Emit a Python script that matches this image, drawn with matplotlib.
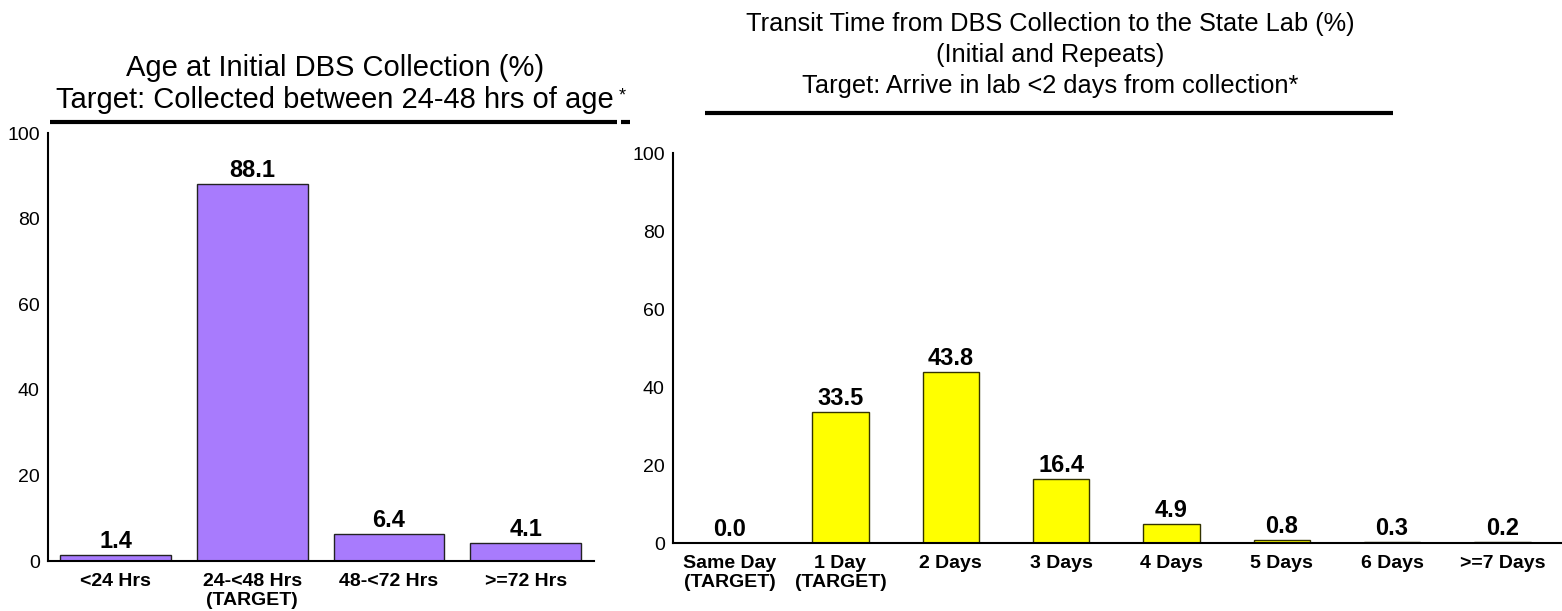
import matplotlib
matplotlib.use("Agg")
from matplotlib import pyplot as plt
from matplotlib.lines import Line2D

plt.rcParams['font.family'] = ['Liberation Sans', 'DejaVu Sans']

age_labels = ['<24 Hrs', '24-<48 Hrs\n(TARGET)', '48-<72 Hrs', '>=72 Hrs']
age_values = [1.4, 88.1, 6.4, 4.1]

transit_labels = ['Same Day\n(TARGET)', '1 Day\n(TARGET)', '2 Days', '3 Days',
                  '4 Days', '5 Days', '6 Days', '>=7 Days']
transit_values = [0.0, 33.5, 43.8, 16.4, 4.9, 0.8, 0.3, 0.2]

yticks = [0, 20, 40, 60, 80, 100]

W, H = 1562, 611
fig = plt.figure(figsize=(W / 100, H / 100), dpi=100)


def px_axes(x0, y0, x1, y1):
    # pixel box (top-left origin) -> figure fraction
    return fig.add_axes([x0 / W, 1 - y1 / H, (x1 - x0) / W, (y1 - y0) / H])


def style(ax):
    for s in ['top', 'right']:
        ax.spines[s].set_visible(False)
    for s in ['left', 'bottom']:
        ax.spines[s].set_linewidth(1.5)
    ax.tick_params(axis='both', length=0)
    ax.tick_params(axis='y', labelsize=14, pad=6)
    ax.tick_params(axis='x', labelsize=14, pad=9)
    for t in ax.get_xticklabels():
        t.set_fontweight('bold')
    ax.set_yticks(yticks)
    ax.set_ylim(0, 100)


def hline(x0, x1, y):
    fig.add_artist(Line2D([x0 / W, x1 / W], [1 - y / H, 1 - y / H], color='black',
                          lw=3, solid_capstyle='butt'))


# left chart
ax1 = px_axes(48, 133, 594, 561)
x1 = range(len(age_values))
ax1.bar(x1, age_values, width=0.81, color='#a87bfd', edgecolor='#222222', linewidth=1)
ax1.set_xlim(-0.494, 3.5)
ax1.set_xticks(list(x1))
ax1.set_xticklabels(age_labels, linespacing=1.15)
style(ax1)
for i, v in enumerate(age_values):
    ax1.annotate(f'{v:.1f}', (i, v), xytext=(0, 1.5), textcoords='offset points',
                 ha='center', va='bottom', fontsize=17, fontweight='bold')

# right chart
ax2 = px_axes(673, 153, 1562, 543)
x2 = range(len(transit_values))
ax2.bar(x2, transit_values, width=0.51, color='#ffff00', edgecolor='#333300', linewidth=1)
ax2.set_xlim(-0.517, 7.54)
ax2.set_xticks(list(x2))
ax2.set_xticklabels(transit_labels, linespacing=1.15)
style(ax2)
for i, v in enumerate(transit_values):
    ax2.annotate(f'{v:.1f}', (i, v), xytext=(0, 1.5), textcoords='offset points',
                 ha='center', va='bottom', fontsize=17, fontweight='bold')

# titles
fig.text(335 / W, 1 - 84 / H,
         'Age at Initial DBS Collection (%)\nTarget: Collected between 24-48 hrs of age',
         ha='center', va='center', fontsize=21, linespacing=1.22)
fig.text(622 / W, 1 - 96 / H, '*', ha='center', va='center', fontsize=13)
fig.text(1050 / W, 1 - 55 / H,
         'Transit Time from DBS Collection to the State Lab (%)\n(Initial and Repeats)\n'
         'Target: Arrive in lab <2 days from collection*',
         ha='center', va='center', fontsize=18.3, linespacing=1.38)

# underline rules below the titles
hline(50, 617, 122)
hline(621, 630, 122)
hline(705, 1393, 113)

plt.savefig('out.png', dpi=100)
